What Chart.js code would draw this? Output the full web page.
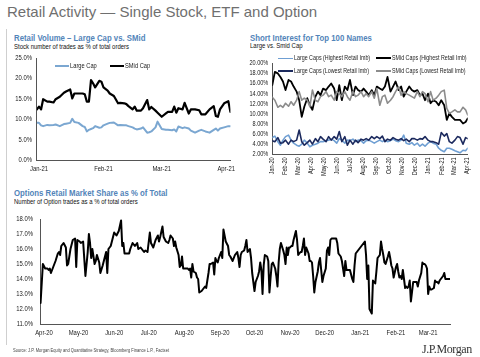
<!DOCTYPE html>
<html><head><meta charset="utf-8">
<script src="https://cdn.jsdelivr.net/npm/chart.js@4.4.1/dist/chart.umd.min.js"></script>
<style>
html,body{margin:0;padding:0;background:#fff;width:480px;height:357px;overflow:hidden;}
body{position:relative;font-family:'Liberation Sans',Arial,sans-serif;color:#111;}
.t{position:absolute;white-space:nowrap;line-height:1;}
.n{transform:scaleX(0.82);transform-origin:0 0;}
.ttl{font-weight:bold;font-size:9.5px;color:#5284b9;}
.sub{font-size:7.3px;color:#111;}
.lg{font-size:7px;color:#222;}
.lg2{font-size:6.5px;color:#222;}
.sw{position:absolute;}
canvas{position:absolute;}
</style></head><body>
<div class="t" style="left:7px;top:4px;font-size:15px;color:#6f6f6f;">Retail Activity — Single Stock, ETF and Option</div>
<div style="position:absolute;left:6px;top:29px;width:1px;height:316px;background:#cfcfcf;"></div>

<div class="t n ttl" style="left:14px;top:32.7px;">Retail Volume – Large Cap vs. SMid</div>
<div class="t n sub" style="left:14px;top:42.6px;">Stock number of trades as % of total orders</div>

<div class="t n ttl" style="left:250px;top:32.7px;">Short Interest for Top 100 Names</div>
<div class="t n sub" style="left:250px;top:42.2px;">Large vs. Smid Cap</div>

<div class="t n ttl" style="left:14px;top:188.3px;">Options Retail Market Share as % of Total</div>
<div class="t n sub" style="left:14px;top:198.2px;">Number of Option trades as a % of total orders</div>

<canvas id="cVol" width="240" height="130" style="left:0;top:50px;"></canvas>
<canvas id="cSI" width="240" height="135" style="left:240px;top:55px;"></canvas>
<canvas id="cOpt" width="480" height="140" style="left:0;top:210px;"></canvas>

<!-- legends -->
<div class="sw" style="left:55px;top:65px;width:14px;height:2px;background:#7ba7d1;"></div>
<div class="t n lg" style="left:70px;top:62.3px;">Large Cap</div>
<div class="sw" style="left:110px;top:64.8px;width:14px;height:2.5px;background:#000;"></div>
<div class="t n lg" style="left:125px;top:62.3px;">SMid Cap</div>

<div class="sw" style="left:278px;top:57.5px;width:15px;height:1.6px;background:#6f9fd3;"></div>
<div class="t n lg2" style="left:294px;top:55px;">Large Caps (Highest Retail Imb)</div>
<div class="sw" style="left:376px;top:57.3px;width:15px;height:2px;background:#000;"></div>
<div class="t n lg2" style="left:392px;top:55px;">SMid Caps (Highest Retail Imb)</div>
<div class="sw" style="left:278px;top:70.2px;width:15px;height:1.6px;background:#1c2a5e;"></div>
<div class="t n lg2" style="left:294px;top:67.8px;">Large Caps (Lowest Retail Imb)</div>
<div class="sw" style="left:376px;top:70.2px;width:15px;height:1.6px;background:#8c8c8c;"></div>
<div class="t n lg2" style="left:392px;top:67.8px;">SMid Caps (Lowest Retail Imb)</div>

<div class="t" style="left:13px;top:348.7px;font-size:4.5px;color:#444;transform:scaleX(0.9);transform-origin:0 0;">Source: J.P. Morgan Equity and Quantitative Strategy, Bloomberg Finance L.P., Factset</div>
<div class="t" style="left:422px;top:343.3px;font-family:'Liberation Serif','DejaVu Serif',serif;font-size:12px;color:#333;letter-spacing:-0.4px;">J.P.Morgan</div>

<script>
// ---------- Retail Volume (Jan-21 .. Apr-21), x = days since 1 Jan 2021 ----------
const volMonthLabels = ['Jan-21','Feb-21','Mar-21','Apr-21'];
const volMonthDays = [0,31,59,90];
const volDays = [-1,0,1,2,4,5,7,8,10,12,13,15,16,17,19,21,22,23,24,25,26,27,29,30,31,33,34,36,38,39,41,42,43,45,46,47,49,50,52,53,54,56,57,59,61,62,64,65,66,67,69,70,72,73,75,77,78,80,82,84,85,86,87,89,91,92];
const volLargeCap = [9.1,9.1,8.5,8.3,8.6,8.5,8.6,8.7,8.3,8.8,8.9,9.1,10.1,9.3,9.1,8.3,8.1,7.0,7.4,7.6,7.8,8.3,7.9,8.0,8.5,8.9,9.1,9.2,8.5,8.6,8.5,8.5,8.3,8.0,7.7,7.5,7.7,8.0,6.7,6.8,7.0,8.0,9.4,7.6,7.4,7.4,7.3,7.5,7.0,8.2,7.8,8.0,7.7,7.2,6.7,7.2,7.4,7.0,6.7,7.4,7.7,7.2,7.7,8.0,8.3,8.3];
const volSmidCap = [12.4,13.1,12.4,14.9,14.3,14.3,14.1,14.9,15.5,16.5,16.8,17.3,15.1,16.3,16.3,16.3,16.1,14.3,14.3,19.6,18.8,17.8,19.4,19.2,17.8,17.0,16.3,15.7,13.9,14.0,13.9,13.7,13.2,12.4,13.1,12.1,12.1,12.7,14.7,12.4,13.0,12.1,11.6,10.6,11.4,11.8,11.8,13.1,11.6,12.7,12.4,14.0,11.4,12.4,12.4,12.2,11.2,11.2,12.4,13.2,10.8,10.6,12.4,13.9,14.4,11.8];

// ---------- Short interest (Jan-20 .. Apr-21), x = days since 1 Jan 2020 ----------
const siMonthLabels = ['Jan-20','Feb-20','Mar-20','Apr-20','May-20','Jun-20','Jul-20','Aug-20','Sep-20','Oct-20','Nov-20','Dec-20','Jan-21','Feb-21','Mar-21','Apr-21'];
const siMonthDays = [0,31,60,91,121,152,182,213,244,274,305,335,366,397,425,456];
const siDays = [0,6,13,19,25,31,38,44,50,57,63,69,75,82,88,94,101,107,113,119,126,132,138,145,151,157,163,170,176,182,189,195,201,208,214,220,226,233,239,245,252,258,264,270,277,283,289,296,302,308,314,321,327,333,340,346,352,358,365,371,377,384,390,396,403,409,415,421,428,434,440,447,453,458];
const siLargeHigh = [5.3,5.6,4.5,3.8,4.8,5.5,5.8,4.8,4.2,3.8,3.6,4.0,4.8,4.2,3.5,3.8,4.0,4.2,4.5,4.5,4.7,4.8,5.0,4.7,4.2,5.1,4.8,4.2,4.8,4.7,5.0,4.5,4.8,4.7,4.2,4.7,4.8,4.5,4.2,4.5,4.8,4.5,4.8,4.5,4.7,5.0,4.7,4.5,4.8,5.8,4.2,4.0,4.3,3.8,4.2,3.6,4.0,3.6,4.2,4.5,4.2,4.0,3.2,2.8,2.5,3.2,3.2,3.0,2.7,2.5,2.3,2.8,2.7,3.2];
const siSmidHigh = [15.7,18.3,18.0,17.3,16.4,14.7,16.7,16.4,15.4,14.4,12.7,9.4,11.4,13.1,11.7,10.8,13.4,14.4,13.7,15.0,14.7,15.4,16.0,15.0,12.7,15.7,12.7,15.4,14.7,16.7,13.7,15.4,14.7,14.4,15.0,14.4,13.7,14.7,13.7,15.4,15.0,14.7,15.4,17.3,14.4,15.4,16.4,14.7,15.4,13.4,14.4,15.4,14.7,14.4,14.7,13.7,14.0,12.7,14.0,12.1,12.7,12.4,11.7,12.7,11.7,8.8,10.1,9.4,8.8,8.8,8.8,8.1,8.4,9.1];
const siLargeLow = [4.7,4.5,5.3,4.2,4.3,4.8,4.0,4.8,4.5,4.8,6.8,4.5,3.8,4.3,4.8,4.0,5.1,4.5,5.5,5.0,4.5,5.5,4.8,5.5,5.0,6.5,4.5,5.5,3.8,4.8,4.0,4.8,4.3,5.0,4.8,5.1,4.8,5.5,5.1,5.5,5.1,5.6,4.5,5.0,4.8,5.3,5.0,4.8,5.1,4.7,5.0,4.5,5.1,5.1,4.8,5.1,5.0,5.5,4.8,4.5,4.5,4.3,4.0,6.3,5.6,6.1,4.5,4.2,4.8,5.5,5.3,4.0,5.3,5.1];
const siSmidLow = [13.3,12.7,11.3,11.7,11.3,12.1,11.5,12.4,11.7,12.7,14.4,12.7,13.1,12.7,11.4,14.7,12.7,12.4,13.4,13.7,14.4,13.4,13.7,12.7,14.4,14.0,13.4,14.4,13.4,12.7,14.4,13.4,13.7,14.4,13.4,14.0,13.4,14.4,13.1,15.0,11.7,13.4,13.7,12.1,12.7,13.4,14.4,15.4,13.7,14.4,14.0,13.7,13.4,13.1,14.4,13.4,14.4,14.0,12.4,14.4,12.7,13.1,13.7,14.4,14.7,11.1,10.1,10.4,10.8,10.4,10.4,11.3,10.8,9.8];

// ---------- Options retail share (Apr-20 .. Mar-21), x = days since 1 Apr 2020 ----------
const optMonthLabels = ['Apr-20','May-20','Jun-20','Jul-20','Aug-20','Sep-20','Oct-20','Nov-20','Dec-20','Jan-21','Feb-21','Mar-21'];
const optMonthDays = [0,30,61,91,122,153,183,214,244,275,306,334];
const optDays = [-3,-1,1,3,4,5,6,8,10,12,13,14,15,17,19,20,21,23,25,27,28,29,31,32,34,36,38,39,40,41,42,44,45,46,48,49,51,53,54,55,56,58,60,61,63,65,67,68,69,70,72,74,75,77,79,81,82,84,
87,88,90,92,93,95,97,99,100,101,103,104,106,108,109,110,112,113,114,115,117,118,119,120,121,123,125,126,127,128,129,130,132,133,134,135,137,139,140,141,143,144,145,147,148,149,150,151,152,154,155,156,157,158,160,161,162,164,166,168,169,170,171,172,174,
175,176,177,179,180,181,183,184,186,187,188,189,190,191,192,194,195,196,197,198,199,201,202,203,204,205,206,208,209,210,211,212,213,214,215,216,217,219,220,221,223,224,225,226,227,228,230,231,232,233,234,235,236,238,239,240,241,242,243,245,246,247,248,249,250,252,254,255,256,258,259,260,261,262,263,264,
266,268,269,270,271,273,275,276,278,279,280,281,282,283,285,286,287,288,289,290,292,293,294,295,296,297,299,300,301,302,303,304,306,307,308,309,310,311,312,314,315,316,317,318,319,321,322,323,324,325,326,328,329,330,331,332,333,334,335,336,337,339,340,341,342,343,344,346,347,348,349,350,351,353];
const optShare = [12.4,15.0,14.7,14.7,14.6,14.7,14.4,14.8,15.2,15.7,15.8,15.6,16.2,16.4,16.1,14.9,15.0,16.0,16.6,16.7,14.8,16.6,16.5,16.4,16.5,14.2,15.8,17.0,16.4,15.4,16.0,15.0,15.2,15.6,15.1,14.4,14.9,15.5,15.8,14.4,16.0,16.2,16.8,17.1,16.9,17.2,17.9,16.2,16.4,15.7,15.7,15.7,16.0,16.4,16.2,16.4,16.0,16.1,
15.8,15.9,15.8,17.1,16.4,16.1,16.6,16.9,16.5,16.8,17.5,16.8,16.5,16.4,16.6,16.9,16.7,16.2,16.5,16.1,15.6,14.8,14.9,15.5,14.7,14.7,14.7,14.6,14.7,14.1,15.0,14.5,14.4,14.1,14.0,13.1,13.2,13.4,13.5,13.4,14.4,15.0,15.0,15.1,14.3,15.4,15.2,15.1,15.4,15.8,15.4,17.3,16.9,16.5,16.2,15.6,15.5,15.2,15.6,15.8,15.4,14.8,15.6,15.8,15.9,
16.2,16.6,15.8,16.0,15.4,14.4,13.2,13.8,14.2,14.5,15.1,14.6,13.0,14.9,15.6,15.5,15.2,13.1,14.1,15.0,15.1,14.7,14.2,13.5,15.1,16.0,16.4,15.9,15.6,15.0,16.1,15.6,16.1,16.1,16.2,16.2,16.6,17.2,16.6,15.6,15.8,15.8,16.2,16.7,15.6,16.1,15.7,15.2,15.2,15.1,14.2,13.1,13.8,14.5,15.1,15.4,14.6,13.8,14.2,14.7,15.9,16.1,15.6,16.6,16.7,16.7,16.7,16.4,15.7,15.5,15.2,14.7,14.2,15.2,14.6,14.6,
14.6,14.0,13.8,14.9,15.7,15.9,16.1,16.2,16.4,16.5,15.6,14.0,14.9,12.0,11.7,13.9,13.8,13.7,14.5,15.4,15.6,16.5,16.0,15.6,15.1,15.0,15.5,15.8,15.4,14.9,14.7,14.1,14.8,15.0,14.5,14.1,14.2,14.0,14.6,13.4,13.5,13.4,13.5,13.9,12.5,13.8,13.8,13.8,13.8,13.5,13.9,14.4,15.1,15.0,15.0,14.9,14.7,13.0,13.5,13.3,13.3,13.4,13.9,13.8,13.8,13.7,13.9,14.1,14.2,14.4,14.0,14.0,14.0,14.0];

// ---------- drawing ----------
// condensed ("narrow") rendering of canvas text, like the reference's narrow typeface
const NARROW = 0.82;
const nativeFillText = CanvasRenderingContext2D.prototype.fillText;
CanvasRenderingContext2D.prototype.fillText = function (t, x, y, mw) {
  this.save(); this.translate(x, y); this.scale(NARROW, 1);
  if (mw === undefined || mw === null) nativeFillText.call(this, t, 0, 0);
  else nativeFillText.call(this, t, 0, 0, mw / NARROW);
  this.restore();
};

Chart.defaults.font.family = "'Liberation Sans', Arial, sans-serif";
Chart.defaults.color = '#1a1a1a';
Chart.defaults.animation = false;
const AXIS = '#555';

function series(label, xs, ys, color, width) {
  return { label, data: xs.map((x, i) => ({ x, y: ys[i] })), borderColor: color, backgroundColor: color,
    borderWidth: width, pointRadius: 0, pointHoverRadius: 0, tension: 0, fill: false,
    borderJoinStyle: 'round', borderCapStyle: 'round' };
}
function xAxis(min, max, ticksAt, labels, height, rot, pad, size) {
  return { type: 'linear', min, max, bounds: 'data',
    grid: { display: false, drawTicks: false, tickLength: 0 }, border: { display: true, color: AXIS, width: 1 },
    afterBuildTicks: s => { s.ticks = ticksAt.map(v => ({ value: v })); },
    ticks: { autoSkip: false, maxRotation: rot, minRotation: rot, padding: pad, font: { size },
      callback: (v, i) => labels[i] },
    afterFit: s => { s.height = height; s.paddingLeft = 0; s.paddingRight = 0; } };
}
function yAxis(min, max, step, dec, width, pad, size) {
  return { type: 'linear', min, max, grid: { display: false, drawTicks: false, tickLength: 0 },
    border: { display: true, color: AXIS, width: 1 },
    ticks: { stepSize: step, autoSkip: false, padding: pad, font: { size }, callback: v => v.toFixed(dec) + '%' },
    afterFit: s => { s.width = width; s.paddingTop = 0; s.paddingBottom = 0; } };
}
function make(id, datasets, x, y, pad) {
  return new Chart(document.getElementById(id), {
    type: 'line', data: { datasets },
    options: { responsive: false, devicePixelRatio: 1, animation: false,
      layout: { padding: pad },
      plugins: { legend: { display: false }, tooltip: { enabled: false } },
      scales: { x, y } } });
}

make('cVol', [
    series('SMid Cap', volDays, volSmidCap, '#000000', 2.2),
    series('Large Cap', volDays, volLargeCap, '#7ba7d1', 2)
  ],
  xAxis(-1, 92, volMonthDays, volMonthLabels, 20, 0, 5, 7.2),
  yAxis(0, 25, 5, 1, 36.9, 5, 7.2),
  { left: 0, right: 9.6, top: 8, bottom: 0 });

make('cSI', [
    series('SMid Caps (Lowest Retail Imb)', siDays, siSmidLow, '#8c8c8c', 1.6),
    series('Large Caps (Lowest Retail Imb)', siDays, siLargeLow, '#1c2a5e', 1.6),
    series('SMid Caps (Highest Retail Imb)', siDays, siSmidHigh, '#000000', 1.8),
    series('Large Caps (Highest Retail Imb)', siDays, siLargeHigh, '#6f9fd3', 1.6)
  ],
  xAxis(0, 458, siMonthDays, siMonthLabels, 35.7, 90, 3, 6.8),
  yAxis(2, 20, 2, 2, 32.3, 4, 6.8),
  { left: 0, right: 12.3, top: 8.3, bottom: 0 });

make('cOpt', [
    series('Options retail share', optDays, optShare, '#000000', 2)
  ],
  xAxis(-3.5, 353, optMonthDays, optMonthLabels, 26, 0, 5, 7.2),
  yAxis(11, 18, 1, 1, 40, 7, 7.2),
  { left: 0, right: 30, top: 9, bottom: 0 });
</script>
</body></html>
